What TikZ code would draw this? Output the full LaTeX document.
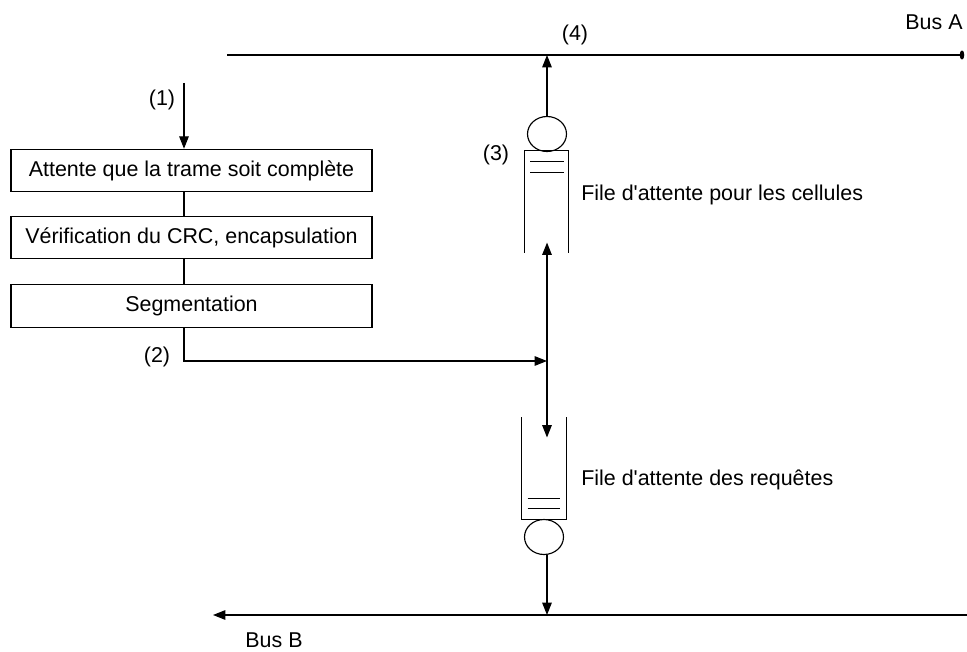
\documentclass[tikz,border=0pt]{standalone}
\usepackage{fontspec}
\setmainfont{Liberation Sans}
\usepackage{tikz}
\usetikzlibrary{arrows.meta,positioning,shapes.geometric,calc}

\begin{document}
\begin{tikzpicture}[
    x=0.02cm, y=-0.02cm,
    font=\fontsize{12.2}{14}\selectfont,
    every path/.style={line width=0.65pt},
    box/.style={rectangle, draw, minimum width=7.22cm, minimum height=0.85cm, align=center, inner sep=0pt},
    queue/.style={rectangle, minimum width=0.87cm, minimum height=2.02cm, inner sep=0pt},
    server/.style={ellipse, draw, minimum width=0.78cm, minimum height=0.7cm, inner sep=0pt},
    arrow/.style={-{Triangle[length=7pt, width=5.4pt]}},
    lbl/.style={inner sep=1pt}
]
    \useasboundingbox (0,0) rectangle (967,652);

    % processing chain on the left
    \node[box] (attente) at (191.5,170.5) {Attente que la trame soit complète};
    \node[box] (verif) at (191.5,237.5) {Vérification du CRC, encapsulation};
    \node[box] (segment) at (191.5,306) {Segmentation};

    \coordinate (entree) at (184,83);
    \coordinate (jonction) at (547,361);

    \draw[arrow] (entree) -- (entree |- attente.north);
    \draw (entree |- attente.south) -- (entree |- verif.north);
    \draw (entree |- verif.south) -- (entree |- segment.north);
    \draw[arrow] (entree |- segment.south) |- (jonction);

    \node[lbl] (n1) at (162,100) {(1)};
    \node[lbl] (n2) at (157,357) {(2)};

    % buses
    \coordinate (busAg) at (227,55);
    \coordinate (busAd) at (962,55);
    \coordinate (busBg) at (213,615);
    \coordinate (busBd) at (967,615);
    \draw (busAg) -- (busAd);
    \fill (busAd) ellipse (1.3pt and 2.6pt);
    \draw[arrow] (busBd) -- (busBg);
    \node[lbl] (busA) at (934,22) {Bus A};
    \node[lbl] (busB) at (274,640) {Bus B};
    \node[lbl] (n4) at (575,35) {(4)};

    % queue for the cells (upper)
    \node[queue] (fileA) at (546.5,201.5) {};
    \node[server] (servA) at (547,134) {};
    \draw (fileA.south west) -- (fileA.north west) -- (fileA.north east) -- (fileA.south east);
    \draw ($(fileA.north west)+(6,11)$) -- ($(fileA.north east)+(-5,11)$);
    \draw ($(fileA.north west)+(6,22)$) -- ($(fileA.north east)+(-5,22)$);
    \draw[arrow] (servA.north) -- (servA |- busAg);
    \draw[arrow] (jonction) -- ($(fileA.south -| jonction)+(0,-10)$);
    \node[lbl] (n3) at (496,155) {(3)};
    \node[lbl, anchor=west] (lblA) at (579,195) {File d\textquotesingle attente pour les cellules};

    % queue for the requests (lower)
    \node[queue] (fileB) at (544,468.5) {};
    \node[server] (servB) at (544,537) {};
    \draw (fileB.north west) -- (fileB.south west) -- (fileB.south east) -- (fileB.north east);
    \draw ($(fileB.south west)+(6,-21)$) -- ($(fileB.south east)+(-6,-21)$);
    \draw ($(fileB.south west)+(6,-11)$) -- ($(fileB.south east)+(-6,-11)$);
    \draw[arrow] (jonction) -- ($(fileB.north -| jonction)+(0,20)$);
    \draw[arrow] (servB.south -| jonction) -- (jonction |- busBd);
    \node[lbl, anchor=west] (lblB) at (579,480) {File d\textquotesingle attente des requêtes};
\end{tikzpicture}
\end{document}
